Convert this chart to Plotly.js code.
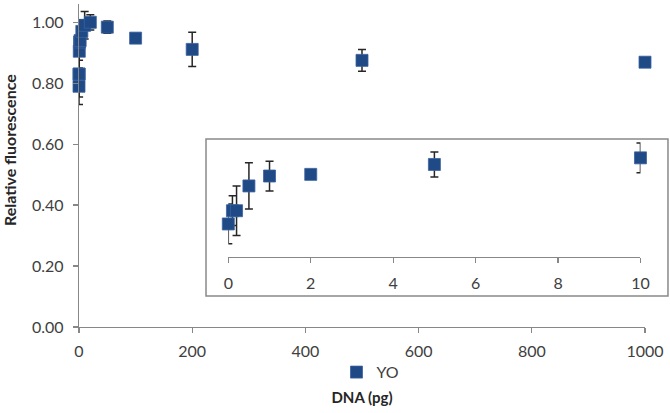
<!DOCTYPE html>
<html>
<head>
<meta charset="utf-8">
<script src="https://cdn.plot.ly/plotly-3.0.1.min.js"></script>
<style>html,body{margin:0;padding:0;background:#fff;}#chart{width:670px;height:413px;}</style>
</head>
<body>
<div id="chart"></div>
<script>
// DNA amount (pg)
const dna = [0, 0.1, 0.2, 0.5, 1, 2, 5, 10, 20, 50, 100, 200, 500, 1000];
// Relative fluorescence (YO)
const yo = [0.79, 0.83, 0.83, 0.905, 0.935, 0.94, 0.97, 0.99, 1.0, 0.984, 0.948, 0.911, 0.875, 0.869];
// error (± SD)
const yoErr = [0.06, 0.045, 0.075, 0.07, 0.045, 0.005, 0.038, 0.045, 0.025, 0.02, 0.008, 0.056, 0.036, 0.004];
// inset shows the low range
const insetMax = 10;
const mainTicks = [0, 200, 400, 600, 800, 1000];
const yTicks = [0, 0.2, 0.4, 0.6, 0.8, 1.0];
const insetTicks = [0, 2, 4, 6, 8, 10];

const insetX = [], insetY = [], insetE = [];
dna.forEach((d, i) => { if (d <= insetMax) { insetX.push(d); insetY.push(yo[i]); insetE.push(yoErr[i]); } });

const blue = '#1F4A86';
const fam = 'Lato, "Liberation Sans", sans-serif';
const errStyle = {type: 'data', visible: true, thickness: 1.5, width: 4, color: '#262626'};
const font = {family: fam, size: 16, color: '#404040'};
const titleFont = {family: fam, size: 15, color: '#262626', weight: 'bold'};

const traces = [
  {
    x: dna, y: yo, name: 'YO', type: 'scatter', mode: 'markers',
    marker: {symbol: 'square', size: 12, color: blue, line: {width: 0.8, color: '#3A62A0'}},
    error_y: Object.assign({array: yoErr}, errStyle),
    xaxis: 'x', yaxis: 'y', cliponaxis: false
  },
  {
    x: insetX, y: insetY, name: 'YO', type: 'scatter', mode: 'markers', showlegend: false,
    marker: {symbol: 'square', size: 12, color: blue, line: {width: 0.8, color: '#3A62A0'}},
    error_y: Object.assign({array: insetE}, errStyle),
    xaxis: 'x2', yaxis: 'y2', cliponaxis: false
  }
];

const axisLine = '#878787';
const layout = {
  width: 670, height: 413,
  margin: {l: 79, r: 25, t: 4, b: 86},
  paper_bgcolor: '#fff', plot_bgcolor: 'rgba(0,0,0,0)',
  font: font,
  showlegend: true,
  legend: {orientation: 'h', x: 0.515, xanchor: 'center', y: -0.14, yanchor: 'middle',
           font: font, itemwidth: 30, bgcolor: 'rgba(0,0,0,0)'},
  xaxis: {
    domain: [0, 1], range: [0, 1000], tickvals: mainTicks, ticktext: mainTicks.map(String),
    showgrid: false, zeroline: false, showline: true, linecolor: axisLine, linewidth: 1.3,
    ticks: 'outside', ticklen: 5, tickcolor: axisLine, tickwidth: 1.3, tickfont: font,
    ticklabelstandoff: 4,
    title: {text: 'DNA (pg)', standoff: 34, font: titleFont},
    automargin: false
  },
  yaxis: {
    domain: [0, 1], range: [0, 1.06], tickvals: yTicks, tickformat: '.2f',
    showgrid: false, zeroline: false, showline: true, linecolor: axisLine, linewidth: 1.3,
    ticks: 'outside', ticklen: 5, tickcolor: axisLine, tickwidth: 1.3, tickfont: font,
    ticklabelstandoff: 6,
    automargin: false
  },
  xaxis2: {
    domain: [0.2638, 0.992], anchor: 'y2', range: [0, insetMax], tickvals: insetTicks,
    showgrid: false, zeroline: false, showline: true, linecolor: axisLine, linewidth: 1.3,
    ticks: 'outside', ticklen: 5, tickcolor: axisLine, tickwidth: 1.3, tickfont: font,
    ticklabelstandoff: 6
  },
  yaxis2: {
    domain: [0.2167, 0.5759], anchor: 'x2', range: [0.69, 1.041],
    visible: false, showgrid: false, zeroline: false
  },
  annotations: [
    {text: 'Relative fluorescence', textangle: -90, xref: 'paper', yref: 'paper',
     x: 0, xshift: -69, xanchor: 'center', y: 0.548, yanchor: 'middle',
     showarrow: false, font: Object.assign({}, titleFont, {size: 16})}
  ],
  shapes: [
    {type: 'rect', xref: 'paper', yref: 'paper', x0: 0.2244, x1: 1.0406, y0: 0.096, y1: 0.582,
     line: {color: '#898989', width: 1.5}, fillcolor: 'rgba(0,0,0,0)', layer: 'below'}
  ]
};

Plotly.newPlot('chart', traces, layout, {staticPlot: true, displayModeBar: false});
</script>
</body>
</html>
